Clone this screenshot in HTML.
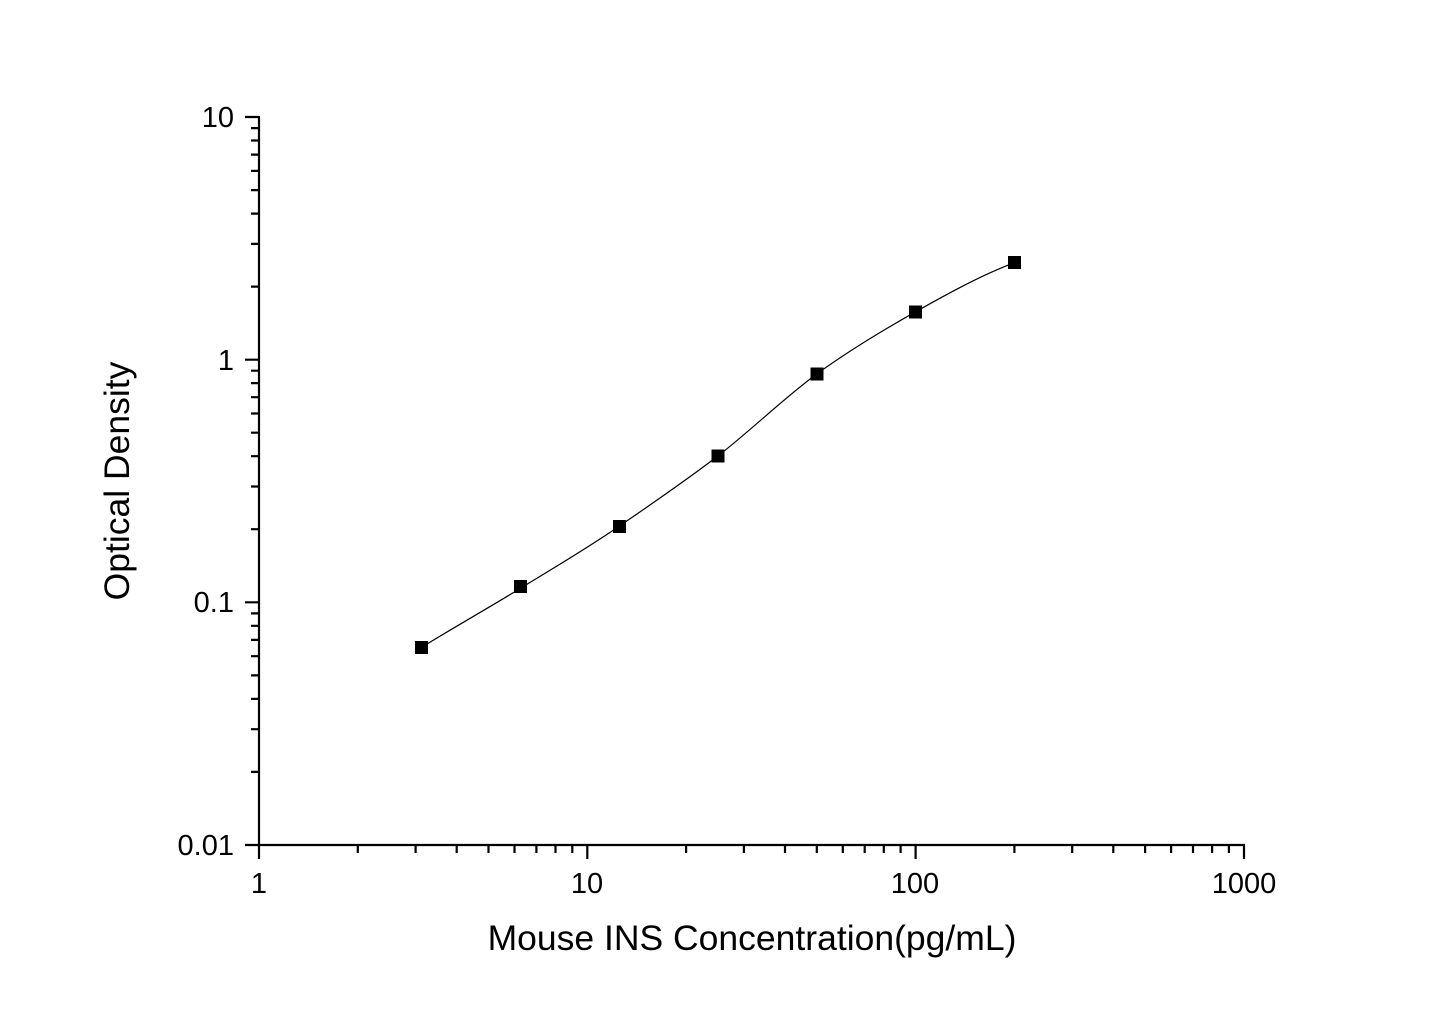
<!DOCTYPE html>
<html><head><meta charset="utf-8"><style>
html,body{margin:0;padding:0;background:#fff;}
svg text{font-family:"Liberation Sans",Arial,sans-serif;fill:#000;}
</style></head><body>
<svg width="1445" height="1013" viewBox="0 0 1445 1013" xmlns="http://www.w3.org/2000/svg">
<rect width="1445" height="1013" fill="#fff"/>
<g stroke="#000" stroke-width="2.2" fill="none">
<line x1="259" y1="116" x2="259" y2="846"/>
<line x1="258" y1="845" x2="1245" y2="845"/>
<path d="M259 845V859M587.3 845V859M915.6 845V859M1244 845V859"/>
<path d="M357.8 845V853M415.6 845V853M456.7 845V853M488.5 845V853M514.5 845V853M536.4 845V853M555.5 845V853M572.3 845V853
M686.1 845V853M743.9 845V853M785 845V853M816.8 845V853M842.8 845V853M864.7 845V853M883.8 845V853M900.6 845V853
M1014.4 845V853M1072.2 845V853M1113.3 845V853M1145.1 845V853M1171.1 845V853M1193 845V853M1212.1 845V853M1228.9 845V853"/>
<path d="M245 845H259M245 602.3H259M245 359.7H259M245 117H259"/>
<path d="M251 771.9H259M251 729.2H259M251 698.9H259M251 675.4H259M251 656.2H259M251 639.9H259M251 625.8H259M251 613.4H259
M251 529.2H259M251 486.5H259M251 456.2H259M251 432.7H259M251 413.5H259M251 397.2H259M251 383.1H259M251 370.7H259
M251 286.6H259M251 243.9H259M251 213.6H259M251 190.1H259M251 170.9H259M251 154.6H259M251 140.5H259M251 128.1H259"/>
</g>
<path d="M421.5 647.4 C454.4 627.1 487.4 608.6 520.3 588.4 C553.2 568.2 586.15 549.05 619.1 526.3 C652.05 503.55 685.05 481.3 718 455.9 C750.95 430.5 783.9 398 816.8 374 C849.7 350 882.7 330.35 915.6 311.8 C948.5 293.25 981.5 275.1 1014.4 262.7" stroke="#000" stroke-width="1.2" fill="none"/>
<g fill="#000">
<rect x="415" y="641" width="13" height="13"/>
<rect x="514" y="580" width="13" height="13"/>
<rect x="613" y="520" width="13" height="13"/>
<rect x="711.5" y="449.5" width="13" height="13"/>
<rect x="810.5" y="367.5" width="13" height="13"/>
<rect x="909" y="305.5" width="13" height="13"/>
<rect x="1008" y="256" width="13" height="13"/>
</g>
<g font-size="29" text-anchor="end">
<text x="234" y="127">10</text>
<text x="234" y="370">1</text>
<text x="234" y="612">0.1</text>
<text x="234" y="855">0.01</text>
</g>
<g font-size="29" text-anchor="middle">
<text x="259" y="893">1</text>
<text x="587" y="893">10</text>
<text x="915" y="893">100</text>
<text x="1244" y="893">1000</text>
</g>
<text x="752" y="950" font-size="35.5" text-anchor="middle">Mouse INS Concentration(pg/mL)</text>
<text transform="translate(129,481) rotate(-90)" font-size="35.5" text-anchor="middle">Optical Density</text>
</svg>
</body></html>
